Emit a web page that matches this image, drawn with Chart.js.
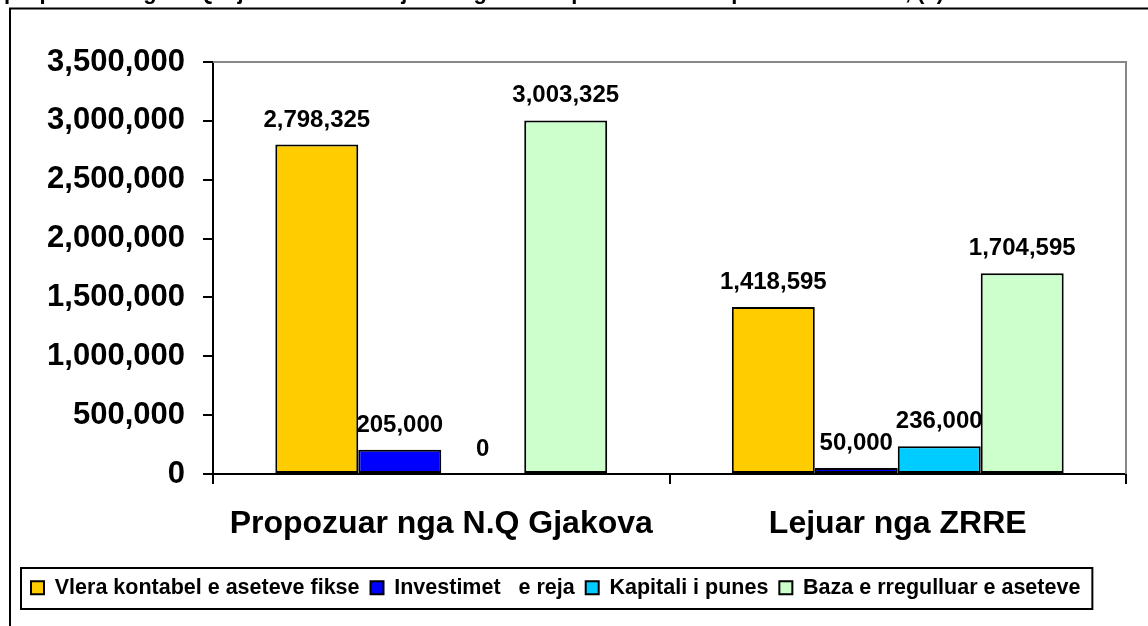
<!DOCTYPE html>
<html>
<head>
<meta charset="utf-8">
<script src="https://cdn.jsdelivr.net/npm/chart.js@4.4.1/dist/chart.umd.min.js"></script>
<style>
  html, body { margin: 0; padding: 0; background: #ffffff; }
  #wrap { width: 1148px; height: 626px; position: relative; }
</style>
</head>
<body>
<div id="wrap"><canvas id="c" width="1148" height="626"></canvas></div>
<script>
// ---- Data ----
const categories = ['Propozuar nga N.Q Gjakova', 'Lejuar nga ZRRE'];
const seriesNames = ['Vlera kontabel e aseteve fikse', 'Investimet   e reja', 'Kapitali i punes', 'Baza e rregulluar e aseteve'];
const vleraKontabel = [2798325, 1418595];
const investimetReja = [205000, 50000];
const kapitaliPunes = [0, 236000];
const bazaRregulluar = [3003325, 1704595];
const yMin = 0;
const yMax = 3500000;
const yStep = 500000;
const titleText = 'Figura 2. Vlerat e propozuara nga N.Q Gjakova dhe te lejuara nga ZRRE per secilin komponent te RAB-it, (€)';

const seriesColors = ['#FFCC00', '#0000FF', '#00CCFF', '#CCFFCC'];
const FONT = "Arial, 'Liberation Sans', sans-serif";

const fmt = v => Number(v).toLocaleString('en-US');

const decorPlugin = {
  id: 'decor',
  beforeDraw(chart) {
    const ctx = chart.ctx;
    ctx.save();
    ctx.fillStyle = '#ffffff';
    ctx.fillRect(0, 0, chart.width, chart.height);
    // partially visible title above frame (cut off by page edge)
    ctx.font = 'bold 22px ' + FONT;
    ctx.fillStyle = '#000';
    ctx.textBaseline = 'alphabetic';
    ctx.textAlign = 'left';
    const prefix = 'Figura 2. Vlerat e propozuara n';
    const x0 = 150 - ctx.measureText(prefix).width - ctx.measureText('g').width / 2;
    ctx.fillText(titleText, x0, -1);
    // outer frame
    ctx.strokeStyle = '#000';
    ctx.lineWidth = 2;
    ctx.strokeRect(10, 8.5, 1200, 700);
    ctx.restore();
  },
  afterDraw(chart) {
    const ctx = chart.ctx;
    const a = chart.chartArea;
    ctx.save();
    // plot area top/right border (grey)
    ctx.strokeStyle = '#888888';
    ctx.lineWidth = 2;
    ctx.beginPath();
    ctx.moveTo(a.left, a.top);
    ctx.lineTo(a.right, a.top);
    ctx.lineTo(a.right, a.bottom);
    ctx.stroke();
    // data labels
    ctx.font = 'bold 24px ' + FONT;
    ctx.fillStyle = '#000';
    ctx.textAlign = 'center';
    ctx.textBaseline = 'alphabetic';
    chart.data.datasets.forEach((ds, i) => {
      const meta = chart.getDatasetMeta(i);
      meta.data.forEach((bar, j) => {
        ctx.fillText(fmt(ds.data[j]), bar.x, bar.y - 18);
      });
    });
    // legend box
    const lg = chart.legend;
    if (lg && lg.legendHitBoxes && lg.legendHitBoxes.length) {
      const hb = lg.legendHitBoxes;
      const last = hb[hb.length - 1];
      const left = hb[0].left - 10;
      const right = last.left + last.width + 12;
      ctx.strokeStyle = '#000';
      ctx.lineWidth = 2;
      ctx.strokeRect(left, 568, right - left, 41);
    }
    ctx.restore();
  }
};

const datasets = [vleraKontabel, investimetReja, kapitaliPunes, bazaRregulluar].map((vals, i) => ({
  label: seriesNames[i],
  data: vals,
  backgroundColor: seriesColors[i],
  borderColor: '#000000',
  borderWidth: 2,
  borderSkipped: false,
  categoryPercentage: 0.727,
  barPercentage: 1.0
}));

new Chart(document.getElementById('c'), {
  type: 'bar',
  data: { labels: categories, datasets },
  plugins: [decorPlugin],
  options: {
    responsive: false,
    animation: false,
    layout: { padding: { left: 20, right: 22, top: 62, bottom: 17.5 } },
    plugins: {
      title: { display: false },
      tooltip: { enabled: false },
      legend: {
        display: true,
        position: 'bottom',
        align: 'start',
        labels: {
          color: '#000',
          font: { family: FONT, size: 21.5, weight: 'bold' },
          boxWidth: 13,
          boxHeight: 13,
          padding: 11
        }
      }
    },
    scales: {
      x: {
        afterFit(scale) { scale.height = 92; },
        grid: { display: true, drawOnChartArea: false, drawTicks: true, tickLength: 10, color: '#000', lineWidth: 2, offset: true },
        border: { display: true, color: '#000', width: 2 },
        ticks: {
          color: '#000',
          font: { family: FONT, size: 32, weight: 'bold' },
          padding: 21,
          maxRotation: 0,
          autoSkip: false
        }
      },
      y: {
        min: yMin,
        max: yMax,
        afterFit(scale) { scale.width = 193; },
        grid: { display: true, drawOnChartArea: false, drawTicks: true, tickLength: 10, color: '#000', lineWidth: 2 },
        border: { display: true, color: '#000', width: 2 },
        ticks: {
          stepSize: yStep,
          color: '#000',
          font: { family: FONT, size: 31, weight: 'bold' },
          padding: 18,
          callback: v => fmt(v)
        }
      }
    }
  }
});
</script>
</body>
</html>
